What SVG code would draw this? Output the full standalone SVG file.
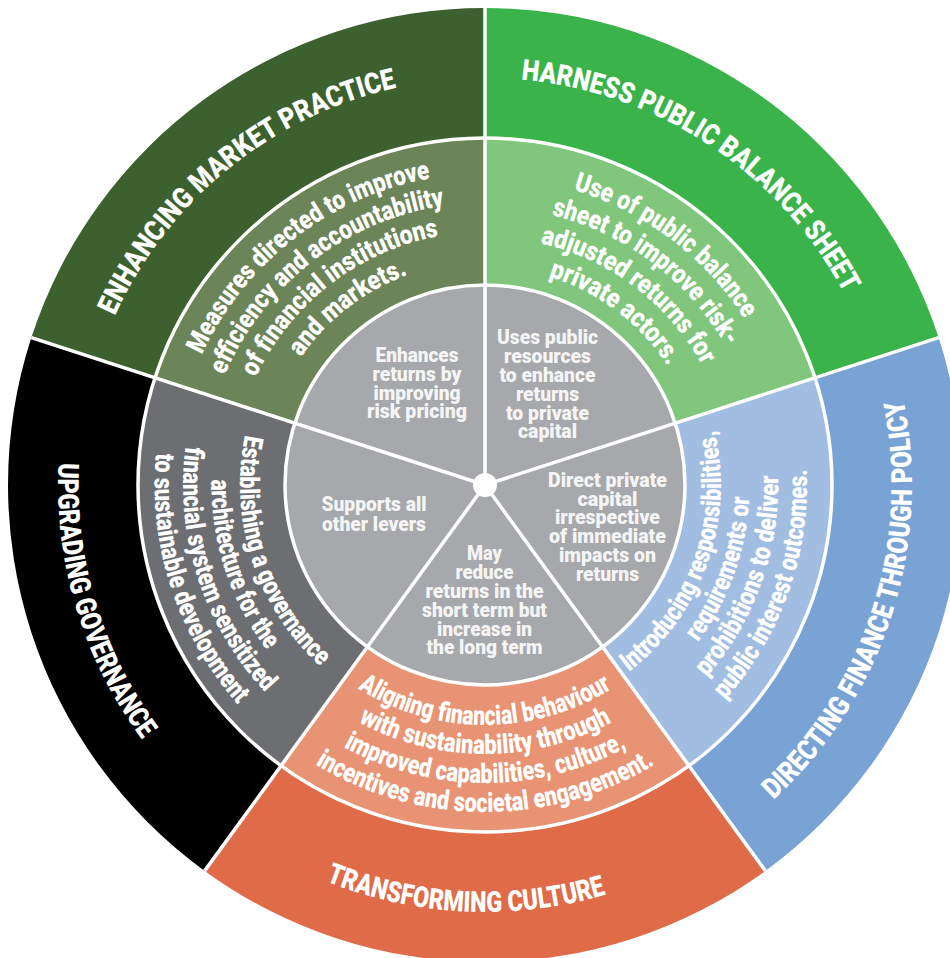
<svg xmlns="http://www.w3.org/2000/svg" width="950" height="958" viewBox="0 0 950 958">
<style>
.t{font-family:Roboto,'Liberation Sans',sans-serif;font-weight:900;fill:#fff}
.o{font-size:29px}
.m{font-size:27px}
.i{font-size:20.5px;text-anchor:middle;fill:#f5f5f5}
.c{text-anchor:middle}
.sep{stroke:#fff;stroke-width:3.5;fill:none}
</style>
<defs>
<path id="pO1" d="M129.03,682.32 A407,407 0 0 1 752.02,177.83"/>
<path id="pO2" d="M189.77,204.84 A407,407 0 0 1 858.24,647.29"/>
<path id="pO3" d="M425.57,907.85 A427,427 0 0 0 685.46,107.98"/>
<path id="pO4" d="M61.46,539.25 A427,427 0 0 0 901.55,578.88"/>
<path id="pO5" d="M292.47,103.86 A427,427 0 0 0 535.56,909.0"/>
<path id="pA1" d="M209.20,629.80 A311.5,311.5 0 0 1 694.64,254.61"/>
<path id="pA2" d="M235.05,616.22 A282.3,282.3 0 0 1 674.99,276.20"/>
<path id="pA3" d="M260.82,602.70 A253.2,253.2 0 0 1 655.41,297.73"/>
<path id="pA4" d="M286.67,589.12 A224,224 0 0 1 635.75,319.32"/>
<path id="pB1" d="M274.94,259.74 A308,308 0 0 1 759.43,624.83"/>
<path id="pB2" d="M295.40,281.68 A278,278 0 0 1 732.70,611.21"/>
<path id="pB3" d="M315.86,303.63 A248,248 0 0 1 705.97,597.59"/>
<path id="pB4" d="M336.32,325.57 A218,218 0 0 1 679.24,583.97"/>
<path id="pC1" d="M446.05,717.76 A236,236 0 0 0 601.21,279.60"/>
<path id="pC2" d="M441.31,746.07 A264.7,264.7 0 0 0 615.34,254.62"/>
<path id="pC3" d="M436.59,774.28 A293.3,293.3 0 0 0 629.43,229.72"/>
<path id="pC4" d="M431.85,802.59 A322,322 0 0 0 643.56,204.74"/>
<path id="pD1" d="M248.65,526.68 A240,240 0 0 0 721.35,526.68"/>
<path id="pD2" d="M220.09,531.71 A269,269 0 0 0 749.91,531.71"/>
<path id="pD3" d="M191.53,536.75 A298,298 0 0 0 778.47,536.75"/>
<path id="pD4" d="M162.97,541.78 A327,327 0 0 0 807.03,541.78"/>
<path id="pE1" d="M369.98,268.68 A245,245 0 0 0 519.10,727.62"/>
<path id="pE2" d="M356.60,243.51 A273.5,273.5 0 0 0 523.06,755.84"/>
<path id="pE3" d="M343.22,218.35 A302,302 0 0 0 527.03,784.06"/>
<path id="pE4" d="M329.84,193.19 A330.5,330.5 0 0 0 531.00,812.28"/>
</defs>

<g id="enhancing-market-practice">
<path fill="#3d612e" d="M485,8 A477,477 0 0 0 31.35,337.60 L154.98,377.77 A347,347 0 0 1 485,138 Z"/>
<path fill="#6b8458" d="M485,138 A347,347 0 0 0 154.98,377.77 L294.79,423.20 A200,200 0 0 1 485,285 Z"/>
<path fill="#a7a8ab" d="M485,485 L485,285 A200,200 0 0 0 294.79,423.20 Z"/>
<text class="t o c"><textPath href="#pO1" startOffset="50%" textLength="376" lengthAdjust="spacingAndGlyphs">ENHANCING MARKET PRACTICE</textPath></text>
<text class="t m c"><textPath href="#pA1" startOffset="50%" textLength="300" lengthAdjust="spacingAndGlyphs">Measures directed to improve</textPath></text>
<text class="t m c"><textPath href="#pA2" startOffset="50%" textLength="290" lengthAdjust="spacingAndGlyphs">efficiency and accountability</textPath></text>
<text class="t m c"><textPath href="#pA3" startOffset="50%" textLength="240" lengthAdjust="spacingAndGlyphs">of financial institutions</textPath></text>
<text class="t m c"><textPath href="#pA4" startOffset="50%" textLength="137" lengthAdjust="spacingAndGlyphs">and markets.</textPath></text>
<text class="t i" x="417" y="361.7" textLength="83" lengthAdjust="spacingAndGlyphs">Enhances</text>
<text class="t i" x="417" y="380.6" textLength="89" lengthAdjust="spacingAndGlyphs">returns by</text>
<text class="t i" x="417" y="399.5" textLength="87" lengthAdjust="spacingAndGlyphs">improving</text>
<text class="t i" x="417" y="418.3" textLength="100" lengthAdjust="spacingAndGlyphs">risk pricing</text>
</g>

<g id="harness-public-balance-sheet">
<path fill="#39b34a" d="M938.65,337.60 A477,477 0 0 0 485,8 L485,138 A347,347 0 0 1 815.02,377.77 Z"/>
<path fill="#80c67c" d="M815.02,377.77 A347,347 0 0 0 485,138 L485,285 A200,200 0 0 1 675.21,423.20 Z"/>
<path fill="#a7a8ab" d="M485,485 L675.21,423.20 A200,200 0 0 0 485,285 Z"/>
<text class="t o c"><textPath href="#pO2" startOffset="50%" textLength="404" lengthAdjust="spacingAndGlyphs">HARNESS PUBLIC BALANCE SHEET</textPath></text>
<text class="t m c"><textPath href="#pB1" startOffset="50%" textLength="219" lengthAdjust="spacingAndGlyphs">Use of public balance</textPath></text>
<text class="t m c"><textPath href="#pB2" startOffset="50%" textLength="225" lengthAdjust="spacingAndGlyphs">sheet to improve risk-</textPath></text>
<text class="t m c"><textPath href="#pB3" startOffset="50%" textLength="209" lengthAdjust="spacingAndGlyphs">adjusted returns for</textPath></text>
<text class="t m c"><textPath href="#pB4" startOffset="50%" textLength="152" lengthAdjust="spacingAndGlyphs">private actors.</textPath></text>
<text class="t i" x="547.5" y="344" textLength="101" lengthAdjust="spacingAndGlyphs">Uses public</text>
<text class="t i" x="547.5" y="362.8" textLength="87" lengthAdjust="spacingAndGlyphs">resources</text>
<text class="t i" x="547.5" y="381.7" textLength="96" lengthAdjust="spacingAndGlyphs">to enhance</text>
<text class="t i" x="547.5" y="400.6" textLength="63" lengthAdjust="spacingAndGlyphs">returns</text>
<text class="t i" x="547.5" y="419.5" textLength="83" lengthAdjust="spacingAndGlyphs">to private</text>
<text class="t i" x="547.5" y="438.4" textLength="59" lengthAdjust="spacingAndGlyphs">capital</text>
</g>

<g id="directing-finance-through-policy">
<path fill="#7aa3d5" d="M765.37,870.90 A477,477 0 0 0 938.65,337.60 L815.02,377.77 A347,347 0 0 1 688.96,765.73 Z"/>
<path fill="#a1bde1" d="M688.96,765.73 A347,347 0 0 0 815.02,377.77 L675.21,423.20 A200,200 0 0 1 602.56,646.80 Z"/>
<path fill="#a7a8ab" d="M485,485 L602.56,646.80 A200,200 0 0 0 675.21,423.20 Z"/>
<text class="t o c"><textPath href="#pO3" startOffset="50%" textLength="440" lengthAdjust="spacingAndGlyphs">DIRECTING FINANCE THROUGH POLICY</textPath></text>
<text class="t m c"><textPath href="#pC1" startOffset="50%" textLength="271" lengthAdjust="spacingAndGlyphs">Introducing responsibilities,</textPath></text>
<text class="t m c"><textPath href="#pC2" startOffset="50%" textLength="156" lengthAdjust="spacingAndGlyphs">requirements or</textPath></text>
<text class="t m c"><textPath href="#pC3" startOffset="50%" textLength="219" lengthAdjust="spacingAndGlyphs">prohibitions to deliver</textPath></text>
<text class="t m c"><textPath href="#pC4" startOffset="50%" textLength="251" lengthAdjust="spacingAndGlyphs">public interest outcomes.</textPath></text>
<text class="t i" x="607.5" y="486.7" textLength="119" lengthAdjust="spacingAndGlyphs">Direct private</text>
<text class="t i" x="607.5" y="505.5" textLength="60" lengthAdjust="spacingAndGlyphs">capital</text>
<text class="t i" x="607.5" y="524.3" textLength="105" lengthAdjust="spacingAndGlyphs">irrespective</text>
<text class="t i" x="607.5" y="543.1" textLength="117" lengthAdjust="spacingAndGlyphs">of immediate</text>
<text class="t i" x="607.5" y="561.9" textLength="97" lengthAdjust="spacingAndGlyphs">impacts on</text>
<text class="t i" x="607.5" y="580.7" textLength="63" lengthAdjust="spacingAndGlyphs">returns</text>
</g>

<g id="transforming-culture">
<path fill="#e06b48" d="M204.63,870.90 A477,477 0 0 0 765.37,870.90 L688.96,765.73 A347,347 0 0 1 281.04,765.73 Z"/>
<path fill="#e89373" d="M281.04,765.73 A347,347 0 0 0 688.96,765.73 L602.56,646.80 A200,200 0 0 1 367.44,646.80 Z"/>
<path fill="#a7a8ab" d="M485,485 L367.44,646.80 A200,200 0 0 0 602.56,646.80 Z"/>
<text class="t o c"><textPath href="#pO4" startOffset="50%" textLength="286" lengthAdjust="spacingAndGlyphs">TRANSFORMING CULTURE</textPath></text>
<text class="t m c"><textPath href="#pD1" startOffset="50%" textLength="268" lengthAdjust="spacingAndGlyphs">Aligning financial behaviour</textPath></text>
<text class="t m c"><textPath href="#pD2" startOffset="50%" textLength="264" lengthAdjust="spacingAndGlyphs">with sustainability through</textPath></text>
<text class="t m c"><textPath href="#pD3" startOffset="50%" textLength="295" lengthAdjust="spacingAndGlyphs">improved capabilities, culture,</textPath></text>
<text class="t m c"><textPath href="#pD4" startOffset="50%" textLength="357" lengthAdjust="spacingAndGlyphs">incentives and societal engagement.</textPath></text>
<text class="t i" x="484.5" y="560" textLength="35" lengthAdjust="spacingAndGlyphs">May</text>
<text class="t i" x="484.5" y="578.9" textLength="58" lengthAdjust="spacingAndGlyphs">reduce</text>
<text class="t i" x="484.5" y="597.8" textLength="118" lengthAdjust="spacingAndGlyphs">returns in the</text>
<text class="t i" x="484.5" y="616.7" textLength="125" lengthAdjust="spacingAndGlyphs">short term but</text>
<text class="t i" x="484.5" y="635.5" textLength="95" lengthAdjust="spacingAndGlyphs">increase in</text>
<text class="t i" x="484.5" y="654.4" textLength="116" lengthAdjust="spacingAndGlyphs">the long term</text>
</g>

<g id="upgrading-governance">
<path fill="#000000" d="M31.35,337.60 A477,477 0 0 0 204.63,870.90 L281.04,765.73 A347,347 0 0 1 154.98,377.77 Z"/>
<path fill="#6d6e71" d="M154.98,377.77 A347,347 0 0 0 281.04,765.73 L367.44,646.80 A200,200 0 0 1 294.79,423.20 Z"/>
<path fill="#a7a8ab" d="M485,485 L294.79,423.20 A200,200 0 0 0 367.44,646.80 Z"/>
<text class="t o c"><textPath href="#pO5" startOffset="50%" textLength="295" lengthAdjust="spacingAndGlyphs">UPGRADING GOVERNANCE</textPath></text>
<text class="t m c"><textPath href="#pE1" startOffset="50%" textLength="255" lengthAdjust="spacingAndGlyphs">Establishing a governance</textPath></text>
<text class="t m c"><textPath href="#pE2" startOffset="50%" textLength="183" lengthAdjust="spacingAndGlyphs">architecture for the</textPath></text>
<text class="t m c"><textPath href="#pE3" startOffset="50%" textLength="267" lengthAdjust="spacingAndGlyphs">financial system sensitized</textPath></text>
<text class="t m c"><textPath href="#pE4" startOffset="50%" textLength="272" lengthAdjust="spacingAndGlyphs">to sustainable development</textPath></text>
<text class="t i" x="374" y="511.3" textLength="105" lengthAdjust="spacingAndGlyphs">Supports all</text>
<text class="t i" x="374" y="530.5" textLength="104" lengthAdjust="spacingAndGlyphs">other levers</text>
</g>

<g id="connectors">
<circle class="sep" cx="485" cy="485" r="200"/>
<circle class="sep" cx="485" cy="485" r="347"/>
<path class="sep" d="M485,485 L485,8 M485,485 L31.35,337.60 M485,485 L204.63,870.90 M485,485 L765.37,870.90 M485,485 L938.65,337.60"/>
<circle cx="485" cy="485" r="12" fill="#fff"/>
</g>
</svg>
